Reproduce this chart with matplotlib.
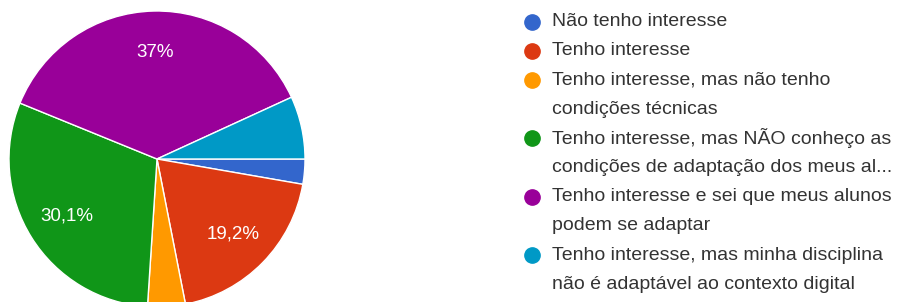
import matplotlib
matplotlib.use("Agg")
import matplotlib.pyplot as plt
from matplotlib.lines import Line2D

# Data (counts: 73 responses)
categories = [
    "Não tenho interesse",
    "Tenho interesse",
    "Tenho interesse, mas não tenho\ncondições técnicas",
    "Tenho interesse, mas NÃO conheço as\ncondições de adaptação dos meus al...",
    "Tenho interesse e sei que meus alunos\npodem se adaptar",
    "Tenho interesse, mas minha disciplina\nnão é adaptável ao contexto digital",
]
counts = [2, 14, 3, 22, 27, 5]
colors = ["#3366cc", "#dc3912", "#ff9900", "#109618", "#990099", "#0099c6"]

W, H = 898, 302
fig = plt.figure(figsize=(W / 100, H / 100), dpi=100)
ax = fig.add_axes([0, 0, 1, 1])

cx, cy, R = 157, H - 159, 148

total = sum(counts)

def fmt(p):
    if p < 10:
        return ""
    s = f"{p:.1f}"
    if s.endswith(".0"):
        s = s[:-2]
    return s.replace(".", ",") + "%"

wedges, texts, autotexts = ax.pie(
    counts, colors=colors, startangle=0, counterclock=False,
    center=(cx, cy), radius=R, autopct=fmt, pctdistance=0.72,
    wedgeprops=dict(edgecolor="white", linewidth=1.0),
    textprops=dict(color="white", fontsize=13.5, family="Liberation Sans"),
)
ax.set_xlim(0, W)
ax.set_ylim(0, H)
ax.set_aspect("equal")
ax.axis("off")

# Legend drawn manually
mx, tx = 532, 552
y = 21.5
step = 29.2
for lab, col in zip(categories, colors):
    lines = lab.split("\n")
    ax.add_line(Line2D([mx], [H - y], marker="o", markersize=11,
                       markerfacecolor=col, markeredgecolor=col, clip_on=False))
    for ln in lines:
        ax.text(tx, H - y, ln, ha="left", va="center", fontsize=14,
                color="#333333", family="Liberation Sans")
        y += step

fig.savefig("out.png", dpi=100)
